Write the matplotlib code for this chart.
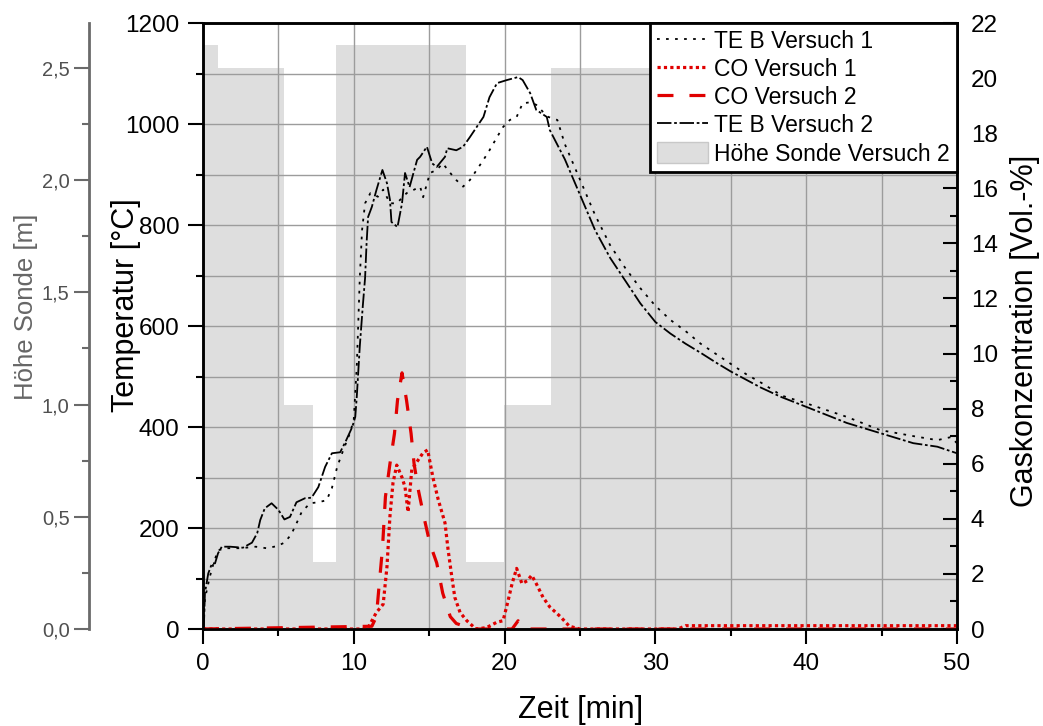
import matplotlib
matplotlib.use('Agg')
import matplotlib.pyplot as plt
from matplotlib.patches import Patch
from matplotlib.ticker import MultipleLocator, FuncFormatter

plt.rcParams['font.family'] = ['Liberation Sans', 'DejaVu Sans']

# Höhe Sonde Versuch 2 (step values, m)
hoehe_t = [0, 1.0, 5.37, 7.29, 8.82, 17.44, 19.96, 23.08, 50]
hoehe_m = [2.6, 2.5, 1.0, 0.3, 2.6, 0.3, 1.0, 2.5, 2.5]

# TE B Versuch 1 (°C)
te1_t = [0, 0.13, 0.45, 0.7, 1.0, 1.6, 2.5, 3.5, 4.2, 4.9, 5.4, 5.85, 6.2, 6.55, 7.1, 7.65,
         8.2, 8.55, 8.9, 9.3, 9.75, 10.0, 10.2, 10.4, 10.55, 10.75, 11.1, 11.6, 11.95, 12.4,
         12.85, 13.5, 14.0, 14.4, 14.6, 15.05, 15.5, 15.9, 16.4, 16.8, 17.25, 17.7, 18.15,
         18.6, 19.0, 19.5, 19.9, 20.35, 20.8, 21.2, 21.7, 22.1, 22.55, 22.9, 23.5, 24, 25,
         26, 27, 28, 29, 30, 31, 32, 33, 34, 35, 36, 37, 38.4, 40, 42.7, 44.9, 47.1, 48.7,
         49.6, 50]
te1_T = [0, 60, 103, 130, 156, 160, 160, 163, 160, 164, 171, 187, 209, 232, 249, 251,
         255, 279, 321, 354, 388, 415, 520, 695, 790, 843, 863, 856, 870, 843,
         843, 863, 870, 876, 855, 903, 909, 922, 903, 889, 876, 889, 909,
         929, 948, 974, 994, 1008, 1014, 1041, 1043, 1038, 1024, 1014, 1008, 960, 890,
         820, 760, 715, 675, 640, 612, 590, 565, 545, 525, 505, 488, 462, 447, 420, 394, 382, 374,
         380, 368]

# TE B Versuch 2 (°C)
te2_t = [0, 0.07, 0.13, 0.35, 0.6, 0.8, 1.0, 1.25, 1.8, 2.65, 3.25, 3.6, 3.8, 4.1, 4.55,
         5.0, 5.4, 5.77, 6.2, 6.77, 7.2, 7.65, 8.1, 8.55, 9.1, 9.5, 9.9, 10.1, 10.2, 10.4,
         10.6, 10.75, 10.85, 10.95, 11.2, 11.5, 11.9, 12.2, 12.4, 12.5, 12.9, 13.2, 13.4,
         13.7, 14.2, 14.4, 14.85, 15.2, 15.5, 16.05, 16.2, 16.8, 17.25, 17.7, 18.15, 18.6,
         19.0, 19.5, 20.15, 20.9, 21.2, 21.7, 22.1, 22.8, 23.0, 24, 25, 26, 27, 28, 29, 30,
         31, 32, 33, 34, 35, 36, 37, 38.3, 40, 42.7, 44.9, 47.1, 48.7, 50]
te2_T = [0, 15, 71, 110, 130, 130, 150, 163, 163, 161, 171, 190, 216, 239, 249,
         236, 217, 222, 251, 259, 260, 281, 321, 348, 350, 374, 400, 420, 460, 560,
         640, 695, 764, 816, 836, 869, 909, 883, 850, 806, 796, 843, 903,
         875, 929, 935, 955, 922, 915, 935, 952, 948, 955, 974, 994, 1014,
         1053, 1081, 1087, 1093, 1087, 1061, 1028, 1014, 988, 930, 860, 790, 735, 690, 645, 608,
         585, 565, 547, 528, 510, 494, 478, 460, 440, 408, 388, 368, 361, 348]

# CO Versuch 1 (Vol.-%)
co1_t = [0, 10.9, 11.5, 11.95, 12.2, 12.4, 12.6, 12.85, 13.2, 13.4, 13.6, 13.85, 14.1, 14.6,
         14.9, 15.25, 15.6, 16.05, 16.25, 16.5, 16.7, 17.05, 17.5, 18.1, 18.8, 19.5, 19.9,
         20.2, 20.5, 20.8, 21.15, 21.5, 21.8, 22.1, 22.55, 23.0, 23.7, 24.3, 25, 31.5, 32, 50]
co1_v = [0, 0, 0.6, 0.9, 2.25, 4.1, 5.3, 5.95, 5.5, 5.15, 4.25, 5.8, 6.0, 6.4,
         6.5, 5.5, 4.7, 3.85, 2.9, 1.9, 1.15, 0.6, 0.3, 0.0, 0.05, 0.25, 0.3,
         0.95, 1.65, 2.2, 1.65, 1.75, 1.95, 1.65, 1.15, 0.8, 0.45, 0.1, 0, 0, 0.12, 0.12]

# CO Versuch 2 (Vol.-%)
co2_t = [0, 11.2, 11.5, 11.7, 11.9, 12.1, 12.4, 12.7, 12.9, 13.2, 13.5, 13.8, 14.0, 14.3,
         14.7, 15.05, 15.5, 15.9, 16.4, 16.8, 17.9, 20.5, 20.9, 21.3, 50]
co2_v = [0, 0.1, 0.45, 1.7, 2.9, 4.8, 6.0, 7.1, 8.3, 9.3, 8.3, 7.1, 6.0, 5.0,
         3.95, 3.1, 2.4, 1.3, 0.45, 0.2, 0.0, 0.0, 0.3, 0.0, 0.0]

fig = plt.figure(figsize=(10.43, 7.26), dpi=100)
ax_t = fig.add_axes([0.1946, 0.1336, 0.7229, 0.8347])
ax_h = ax_t.twinx()
ax_c = ax_t.twinx()
ax_h.set_zorder(ax_t.get_zorder() - 1)
ax_t.patch.set_visible(False)

# Höhe Sonde (outer left axis, grey area)
ax_h.fill_between(hoehe_t, hoehe_m, step='post', color='#dedede', lw=0)
ax_h.set_ylim(0, 2.7)
ax_h.yaxis.tick_left()
ax_h.yaxis.set_label_position('left')
ax_h.spines['left'].set_position(('axes', -0.1512))
ax_h.spines['left'].set_visible(True)
ax_h.spines['left'].set_color('#6a6a6a')
ax_h.spines['left'].set_linewidth(2)
for s in ['right', 'top', 'bottom']:
    ax_h.spines[s].set_visible(False)
ax_h.yaxis.set_major_locator(MultipleLocator(0.5))
ax_h.yaxis.set_minor_locator(MultipleLocator(0.25))
ax_h.yaxis.set_major_formatter(FuncFormatter(lambda v, p: f'{v:.1f}'.replace('.', ',')))
ax_h.tick_params(axis='y', which='major', length=11, width=1.5, color='#6a6a6a',
                 labelcolor='#505050', labelsize=14.5, pad=3)
ax_h.tick_params(axis='y', which='minor', length=5, width=1.5, color='#6a6a6a')
ax_h.set_ylabel('Höhe Sonde [m]', fontsize=18.5, color='#666666', va='center')
ax_h.yaxis.set_label_coords(-0.2347, 0.531)

# Temperature
l_te1, = ax_t.plot(te1_t, te1_T, color='black', lw=1.3, linestyle=(0, (1.5, 3.5)))
l_te2, = ax_t.plot(te2_t, te2_T, color='black', lw=1.3, linestyle=(0, (8, 1.5, 1.5, 1.5)))
ax_t.set_xlim(0, 50)
ax_t.set_ylim(0, 1200)
ax_t.xaxis.set_major_locator(MultipleLocator(10))
ax_t.xaxis.set_minor_locator(MultipleLocator(5))
ax_t.yaxis.set_major_locator(MultipleLocator(200))
ax_t.yaxis.set_minor_locator(MultipleLocator(100))
ax_t.grid(True, which='both', color='#9c9c9c', lw=1)
ax_t.set_axisbelow(True)
ax_t.tick_params(which='major', direction='out', length=11, width=1.5, labelsize=17.5, pad=6)
ax_t.tick_params(which='minor', direction='out', length=5, width=1.5)
for s in ax_t.spines.values():
    s.set_linewidth(1.8)
ax_t.set_ylabel('Temperatur [°C]', fontsize=22, va='center')
ax_t.yaxis.set_label_coords(-0.102, 0.535)
ax_t.set_xlabel('Zeit [min]', fontsize=22, va='center')
ax_t.xaxis.set_label_coords(0.501, -0.133)

# CO (right axis)
l_co1, = ax_c.plot(co1_t, co1_v, color='#e00000', lw=2.3, linestyle=(0, (1, 1)))
l_co2, = ax_c.plot(co2_t, co2_v, color='#e00000', lw=2.3, linestyle=(0, (5, 5)))
ax_c.set_ylim(0, 22)
ax_c.yaxis.set_major_locator(MultipleLocator(2))
ax_c.yaxis.set_minor_locator(MultipleLocator(1))
ax_c.tick_params(axis='y', which='major', direction='in', length=10, width=1.5,
                 labelsize=17.5, pad=10)
ax_c.tick_params(axis='y', which='minor', direction='in', length=5, width=1.5)
for s in ax_c.spines.values():
    s.set_linewidth(1.8)
ax_c.set_ylabel('Gaskonzentration [Vol.-%]', fontsize=22, va='center')
ax_c.yaxis.set_label_coords(1.090, 0.492)

handles = [l_te1, l_co1, l_co2, l_te2,
           Patch(facecolor='#dedede', edgecolor='#c8c8c8')]
labels = ['TE B Versuch 1', 'CO Versuch 1', 'CO Versuch 2', 'TE B Versuch 2',
          'Höhe Sonde Versuch 2']
leg = ax_c.legend(handles, labels, loc='upper right', bbox_to_anchor=(1, 1),
                  borderaxespad=0, fontsize=16.5, fancybox=False, edgecolor='black',
                  framealpha=1, labelspacing=0.22, handlelength=2.2, handleheight=1.0,
                  handletextpad=0.3, borderpad=0.3)
leg.get_frame().set_linewidth(2)

fig.savefig('out.png', dpi=100)
